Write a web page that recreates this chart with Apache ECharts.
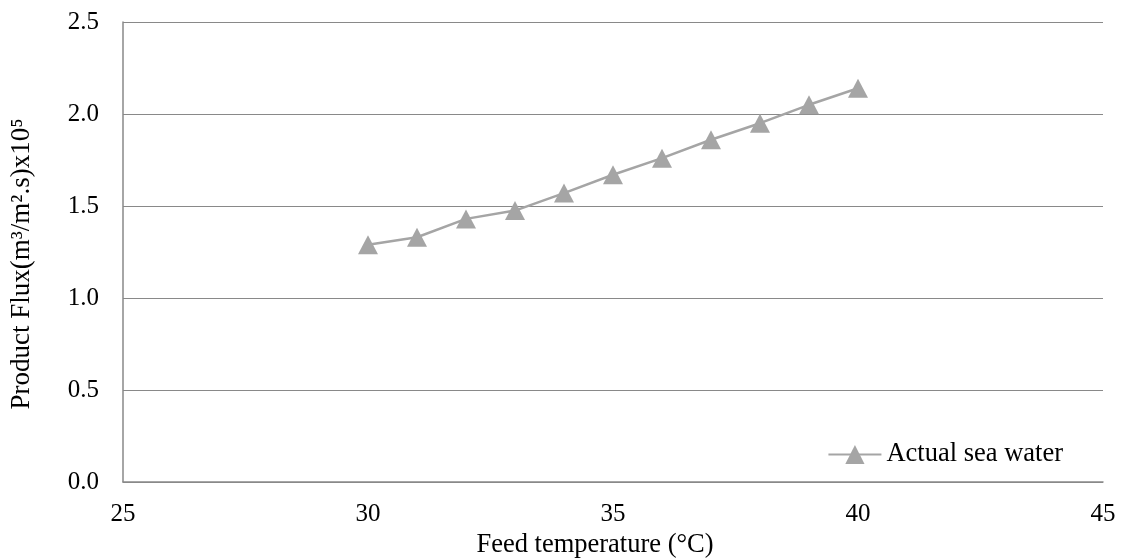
<!DOCTYPE html>
<html>
<head>
<meta charset="utf-8">
<script src="https://cdn.jsdelivr.net/npm/echarts@6/dist/echarts.min.js"></script>
<style>
  html, body { margin: 0; padding: 0; background: #fff; }
  #main { width: 1124px; height: 558px; }
</style>
</head>
<body>
<div id="main"></div>
<script>
// feed temperature (°C) and product flux (x10^5)
var temperatures = [30, 31, 32, 33, 34, 35, 36, 37, 38, 39, 40];
var fluxSeaWater = [1.29, 1.33, 1.43, 1.475, 1.57, 1.67, 1.76, 1.86, 1.95, 2.05, 2.14];
var seriesName = 'Actual sea water';

var chart = echarts.init(document.getElementById('main'));
var font = 'Liberation Serif, Times New Roman, serif';

var option = {
    backgroundColor: '#fff',
    textStyle: { fontFamily: font },
    grid: { left: 123, right: 21, top: 22, bottom: 76, outerBoundsMode: 'none' },
    legend: {
        data: [seriesName],
        right: 56,
        bottom: 85,
        itemWidth: 53,
        itemHeight: 24,
        itemGap: 5,
        textStyle: { fontFamily: font, fontSize: 26.5, color: '#000' }
    },
    xAxis: {
        type: 'value',
        min: 25,
        max: 45,
        interval: 5,
        name: 'Feed temperature (°C)',
        nameLocation: 'middle',
        nameGap: 50,
        nameTextStyle: { fontFamily: font, fontSize: 26.5, color: '#000', padding: [0, 36, 0, 0] },
        axisLine: { show: true, lineStyle: { color: '#898989', width: 1.5 } },
        axisTick: { show: false },
        axisLabel: { fontFamily: font, fontSize: 25, color: '#000', margin: 20 },
        splitLine: { show: false }
    },
    yAxis: {
        type: 'value',
        min: 0,
        max: 2.5,
        interval: 0.5,
        name: 'Product Flux(m³/m².s)x10⁵',
        nameLocation: 'middle',
        nameGap: 88,
        nameTextStyle: { fontFamily: font, fontSize: 27, color: '#000', padding: [0, 24, 0, 0] },
        axisLine: { show: true, lineStyle: { color: '#898989', width: 1.5 } },
        axisTick: { show: false },
        axisLabel: {
            fontFamily: font, fontSize: 25, color: '#000', margin: 24,
            formatter: function (v) { return v.toFixed(1); }
        },
        splitLine: { show: true, lineStyle: { color: '#898989', width: 1 } }
    },
    series: [{
        name: seriesName,
        type: 'line',
        data: temperatures.map(function (t, i) { return [t, fluxSeaWater[i]]; }),
        symbol: 'triangle',
        symbolSize: [20, 19],
        itemStyle: { color: '#a5a5a5' },
        lineStyle: { color: '#a5a5a5', width: 2.5 },
        animation: false
    }]
};

chart.setOption(option);
</script>
</body>
</html>
